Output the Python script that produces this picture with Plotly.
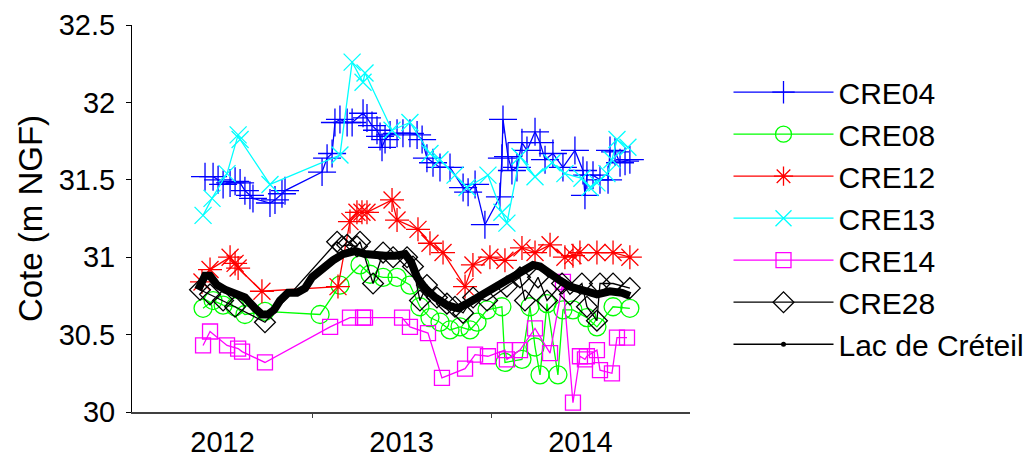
import plotly.graph_objects as go

# x values are decimal years
lac_x = [2012.363, 2012.402, 2012.430, 2012.469, 2012.514, 2012.570, 2012.625, 2012.681, 2012.720, 2012.754,
         2012.788, 2012.821, 2012.866, 2012.916, 2012.961, 2013.000, 2013.056, 2013.117, 2013.173, 2013.240,
         2013.296, 2013.352, 2013.408, 2013.464, 2013.520, 2013.553, 2013.587, 2013.631, 2013.687, 2013.754,
         2013.816, 2013.866, 2013.922, 2013.978, 2014.034, 2014.106, 2014.179, 2014.235, 2014.274, 2014.330,
         2014.385, 2014.441, 2014.514, 2014.592, 2014.665, 2014.732, 2014.776]
lac_y = [30.79, 30.88, 30.88, 30.82, 30.79, 30.77, 30.74, 30.67, 30.63, 30.63,
         30.66, 30.72, 30.77, 30.77, 30.80, 30.87, 30.93, 30.98, 31.02, 31.04,
         31.02, 31.01, 31.01, 31.01, 31.02, 30.97, 30.87, 30.80, 30.74, 30.69,
         30.67, 30.70, 30.74, 30.77, 30.81, 30.86, 30.91, 30.95, 30.94, 30.89,
         30.85, 30.81, 30.79, 30.76, 30.78, 30.77, 30.75]

cre04_x = [2012.402, 2012.447, 2012.475, 2012.503, 2012.542, 2012.570, 2012.598, 2012.625, 2012.653, 2012.670,
           2012.765, 2012.793, 2012.832, 2012.849, 2013.056, 2013.084, 2013.112, 2013.128, 2013.156, 2013.196,
           2013.224, 2013.285, 2013.307, 2013.335, 2013.363, 2013.380, 2013.391, 2013.408, 2013.436, 2013.475,
           2013.508, 2013.547, 2013.587, 2013.615, 2013.642, 2013.676, 2013.715, 2013.771, 2013.844, 2013.872,
           2013.911, 2013.966, 2014.050, 2014.061, 2014.067, 2014.095, 2014.117, 2014.145, 2014.173, 2014.201,
           2014.246, 2014.274, 2014.302, 2014.346, 2014.402, 2014.469, 2014.514, 2014.525, 2014.536, 2014.570,
           2014.609, 2014.654, 2014.665, 2014.693, 2014.721, 2014.749, 2014.776]
cre04_y = [31.52, 31.52, 31.50, 31.47, 31.48, 31.49, 31.48, 31.43, 31.40, 31.38,
           31.35, 31.37, 31.41, 31.43, 31.55, 31.64, 31.67, 31.87, 31.89, 31.87,
           31.87, 31.93, 31.90, 31.85, 31.82, 31.78, 31.71, 31.76, 31.79, 31.80,
           31.80, 31.80, 31.79, 31.76, 31.64, 31.61, 31.58, 31.58, 31.45, 31.42,
           31.47, 31.21, 31.39, 31.64, 31.89, 31.65, 31.56, 31.58, 31.74, 31.69,
           31.81, 31.74, 31.63, 31.67, 31.58, 31.69, 31.56, 31.40, 31.53, 31.53,
           31.50, 31.50, 31.69, 31.68, 31.61, 31.62, 31.63]

cre08_x = [2012.391, 2012.447, 2012.503, 2012.570, 2012.625, 2012.737, 2013.045, 2013.156, 2013.268, 2013.324,
           2013.397, 2013.475, 2013.547, 2013.603, 2013.659, 2013.715, 2013.771, 2013.827, 2013.883, 2013.922,
           2013.978, 2014.061, 2014.078, 2014.173, 2014.218, 2014.246, 2014.274, 2014.313, 2014.374, 2014.402,
           2014.458, 2014.536, 2014.592, 2014.682, 2014.776]
cre08_y = [30.67, 30.72, 30.69, 30.68, 30.63, 30.65, 30.63, 30.82, 30.95, 30.89,
           30.87, 30.87, 30.82, 30.68, 30.61, 30.58, 30.53, 30.55, 30.53, 30.58,
           30.66, 30.68, 30.32, 30.34, 30.68, 30.42, 30.24, 30.70, 30.24, 30.66,
           30.66, 30.61, 30.55, 30.68, 30.67]

cre12_x = [2012.385, 2012.430, 2012.542, 2012.570, 2012.587, 2012.720, 2013.145, 2013.212, 2013.251, 2013.279,
           2013.307, 2013.447, 2013.475, 2013.592, 2013.659, 2013.732, 2013.855, 2013.899, 2013.994, 2014.078,
           2014.173, 2014.246, 2014.330, 2014.413, 2014.458, 2014.497, 2014.592, 2014.682, 2014.776]
cre12_y = [30.84, 30.92, 31.00, 30.96, 30.93, 30.78, 30.81, 31.23, 31.29, 31.29,
           31.29, 31.37, 31.24, 31.18, 31.09, 31.03, 30.81, 30.95, 31.00, 30.98,
           31.06, 31.03, 31.08, 31.00, 31.01, 31.03, 31.03, 31.03, 31.00]

cre13_x = [2012.391, 2012.441, 2012.525, 2012.587, 2012.598, 2012.765, 2013.156, 2013.224, 2013.285, 2013.296,
           2013.447, 2013.547, 2013.659, 2013.715, 2013.799, 2013.866, 2013.983, 2014.061, 2014.089, 2014.162,
           2014.246, 2014.341, 2014.413, 2014.508, 2014.553, 2014.592, 2014.648, 2014.676, 2014.704, 2014.765]
cre13_y = [31.27, 31.38, 31.54, 31.79, 31.76, 31.47, 31.66, 32.26, 32.13, 32.19,
           31.82, 31.87, 31.67, 31.63, 31.53, 31.45, 31.53, 31.29, 31.22, 31.65,
           31.52, 31.61, 31.54, 31.51, 31.45, 31.48, 31.54, 31.63, 31.76, 31.71]

cre14_x = [2012.391, 2012.430, 2012.525, 2012.587, 2012.609, 2012.737, 2013.101, 2013.212, 2013.285, 2013.296,
           2013.503, 2013.547, 2013.648, 2013.726, 2013.855, 2013.911, 2013.983, 2014.078, 2014.089, 2014.162,
           2014.246, 2014.330, 2014.402, 2014.458, 2014.497, 2014.525, 2014.536, 2014.592, 2014.609, 2014.676,
           2014.704, 2014.760]
cre14_y = [30.43, 30.52, 30.43, 30.41, 30.39, 30.32, 30.55, 30.61, 30.61, 30.61,
           30.61, 30.55, 30.51, 30.22, 30.28, 30.37, 30.36, 30.40, 30.34, 30.40,
           30.54, 30.38, 30.84, 30.06, 30.36, 30.34, 30.36, 30.40, 30.27, 30.25,
           30.48, 30.48]

cre28_x = [2012.374, 2012.430, 2012.503, 2012.570, 2012.737, 2013.140, 2013.168, 2013.196, 2013.251, 2013.268,
           2013.341, 2013.397, 2013.453, 2013.531, 2013.564, 2013.603, 2013.642, 2013.698, 2013.754, 2013.799,
           2013.844, 2013.900, 2013.978, 2014.089, 2014.162, 2014.190, 2014.263, 2014.313, 2014.397, 2014.441,
           2014.508, 2014.536, 2014.592, 2014.609, 2014.682, 2014.776]
cre28_y = [30.79, 30.76, 30.72, 30.68, 30.58, 31.10, 31.07, 31.08, 31.07, 31.10,
           30.83, 31.03, 31.00, 31.00, 30.94, 30.72, 30.82, 30.74, 30.70, 30.68,
           30.64, 30.74, 30.72, 30.81, 30.87, 30.72, 30.87, 30.72, 30.83, 30.76,
           30.83, 30.68, 30.59, 30.83, 30.83, 30.80]

year_label_pos = [2012.5, 2013.5, 2014.5]
year_labels = ["2012", "2013", "2014"]
year_bounds = [2013.0, 2014.0]

FONT = "Liberation Sans, Arial, sans-serif"

series = [
    ("CRE04", cre04_x, cre04_y, "#0000FF", "cross-thin-open", 20),
    ("CRE08", cre08_x, cre08_y, "#00FF00", "circle-open", 18),
    ("CRE12", cre12_x, cre12_y, "#FF0000", "asterisk-open", 20),
    ("CRE13", cre13_x, cre13_y, "#00FFFF", "x-thin-open", 17),
    ("CRE14", cre14_x, cre14_y, "#FF00FF", "square-open", 15),
    ("CRE28", cre28_x, cre28_y, "#000000", "diamond-open", 16),
]

fig = go.Figure()
for name, xs, ys, col, sym, sz in series:
    fig.add_trace(go.Scatter(
        x=xs, y=ys, name=name, mode="lines+markers",
        line=dict(color=col, width=1.3),
        marker=dict(symbol=sym, size=sz, color=col, line=dict(color=col, width=1.3)),
    ))

# lake: thick line (dense daily record) + legend proxy
fig.add_trace(go.Scatter(
    x=lac_x, y=lac_y, mode="lines", showlegend=False, legendgroup="lac",
    line=dict(color="black", width=8),
))
fig.add_trace(go.Scatter(
    x=[None], y=[None], name="Lac de Créteil", mode="lines+markers", legendgroup="lac",
    line=dict(color="black", width=1.5), marker=dict(symbol="circle", size=5, color="black"),
))

fig.update_layout(
    width=1032, height=457,
    margin=dict(l=132, r=342, t=25, b=45, autoexpand=False),
    paper_bgcolor="white", plot_bgcolor="white",
    font=dict(family=FONT, size=29, color="black"),
    showlegend=True,
    legend=dict(x=1.069, y=0.8935, xanchor="left", yanchor="top",
                font=dict(size=30), itemwidth=100, tracegroupgap=0,
                bgcolor="rgba(0,0,0,0)"),
    xaxis=dict(
        range=[2011.994, 2015.112], showgrid=False, zeroline=False, automargin=False,
        showline=True, linecolor="#404040", linewidth=1.5,
        tickmode="array", tickvals=year_label_pos, ticktext=year_labels,
        ticks="", tickfont=dict(size=29), ticklabelstandoff=3,
        minor=dict(tickmode="array", tickvals=year_bounds, ticks="outside",
                   ticklen=4, tickwidth=1, tickcolor="#404040", showgrid=False),
    ),
    yaxis=dict(
        range=[30, 32.5], dtick=0.5, showgrid=False, zeroline=False, automargin=False,
        showline=True, linecolor="black", linewidth=1,
        ticks="outside", ticklen=5, tickcolor="black",
        tickfont=dict(size=29), ticklabelstandoff=5,
        title=dict(text="Cote (m NGF)", font=dict(size=33), standoff=6),
    ),
)

fig.write_html("out.html", config={"displayModeBar": False},
               post_script="document.body.style.margin='0px';")
